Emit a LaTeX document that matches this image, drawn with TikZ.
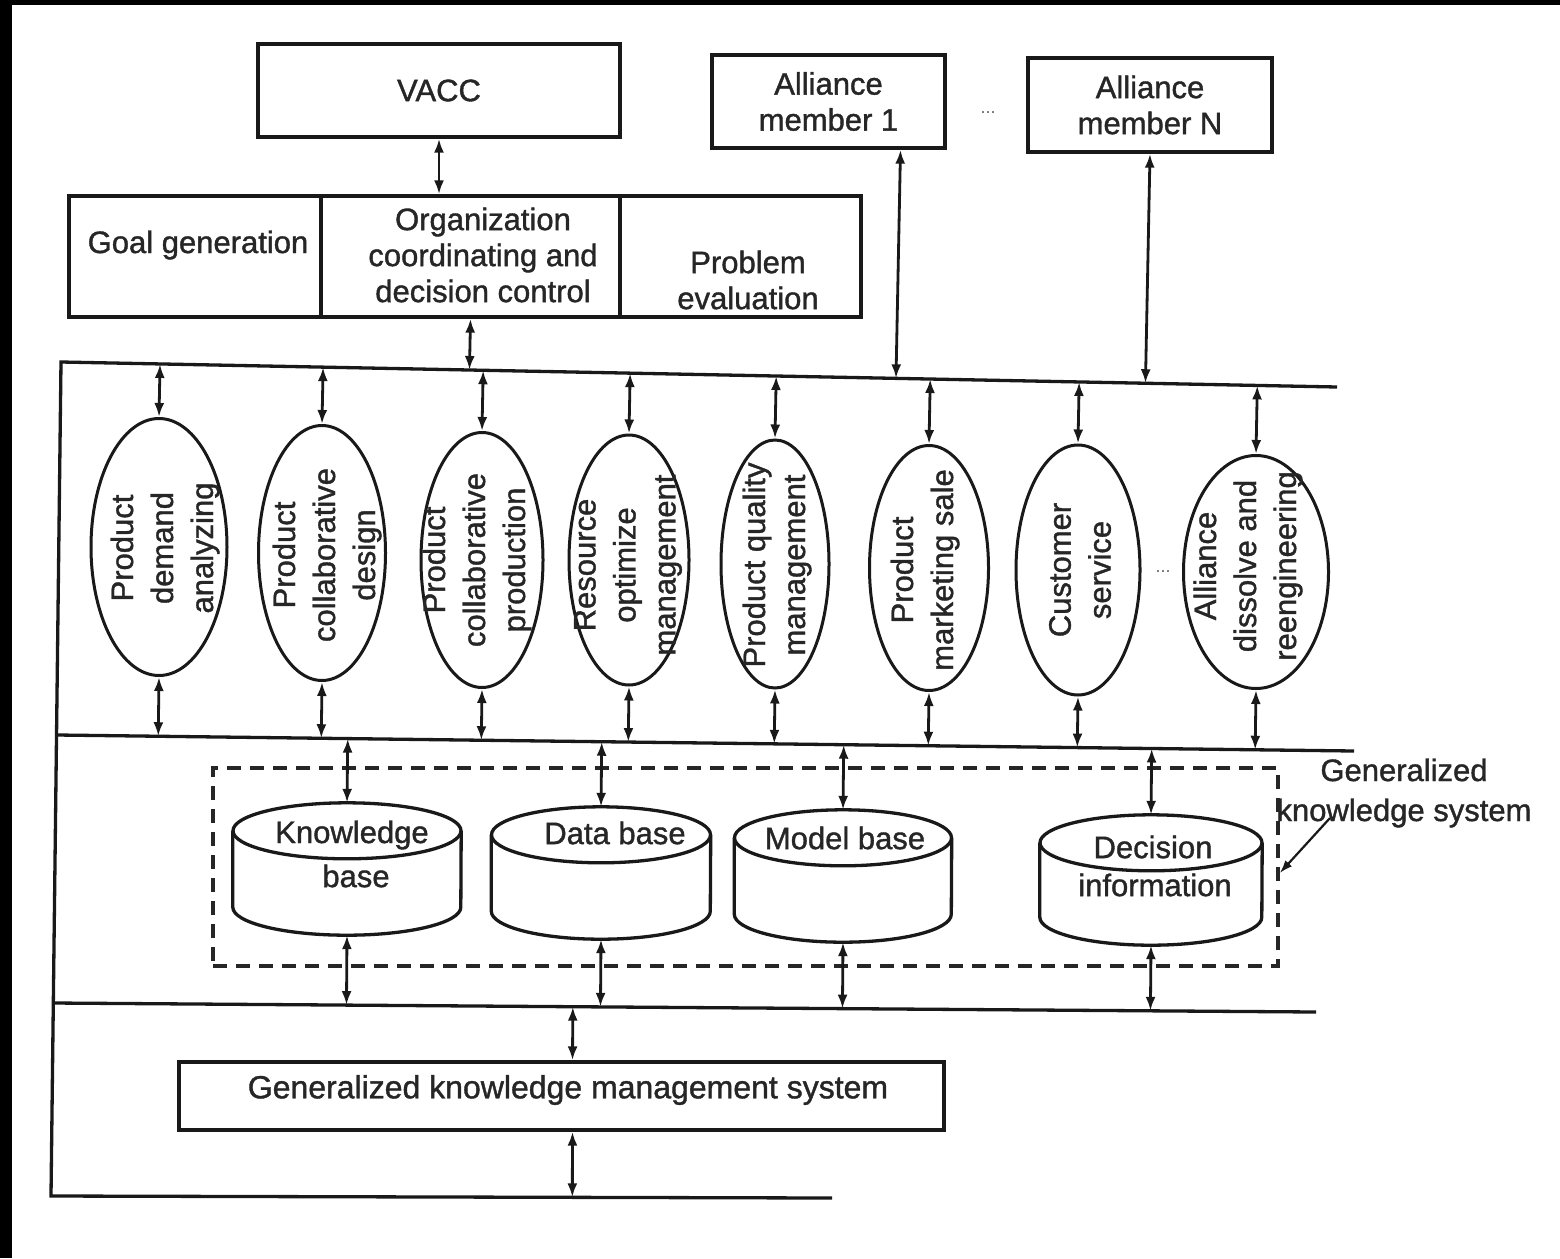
\documentclass[tikz,border=0pt]{standalone}
\usepackage{fontspec}
\setmainfont{Liberation Sans}
\newfontfamily\dkfont{Liberation Sans}[FakeBold=1.2]
\usetikzlibrary{shapes.geometric, arrows.meta, calc}

\newcommand\lblfont{\dkfont\fontsize{31}{36}\selectfont}
\newcommand\ellfont{\dkfont\fontsize{31}{40}\selectfont}

% database cylinder: name, centre x, top y, width, height
\newcommand\dbcyl[5]{%
  \node[minimum width=#4pt, minimum height=#5pt, inner sep=0pt] (#1) at (#2, {#3+#5/2}) {};
  \draw[ink] ([yshift=-28pt]#1.north) ellipse [x radius={#4pt/2}, y radius=28pt];
  \draw[ink] ([yshift=-28pt]#1.north west) -- ([yshift=28pt]#1.south west)
    arc[start angle=180, end angle=360, x radius={#4pt/2}, y radius=28pt]
    -- ([yshift=-28pt]#1.north east);
}

\begin{document}
\begin{tikzpicture}[x=1pt, y=-1pt,
  ink/.style={line width=3.3pt, draw=black!90},
  box/.style={ink, rectangle, inner sep=0pt, align=center, font=\lblfont, text=black!85},
  txt/.style={align=center, font=\lblfont, text=black!85, inner sep=0pt},
  proc/.style={ink, ellipse, inner sep=0pt, line width=3pt},
  rtxt/.style={rotate=90, align=center, font=\ellfont, text=black!85, inner sep=0pt},
  conn/.style={line width=2.8pt, draw=black!90,
    {Latex[length=14pt,width=10pt]}-{Latex[length=14pt,width=10pt]}},
]
\useasboundingbox (0,0) rectangle (1560,1258);
\fill[white] (0,0) rectangle (1560,1258);
% dark scan margins
\fill[black] (0,0) rectangle (1560,5);
\fill[black] (0,0) rectangle (12,1258);

% ---- top boxes ----
\node[box, minimum width=362pt, minimum height=93pt] (vacc) at (439,90.5) {VACC};
\node[box, minimum width=233pt, minimum height=93pt] (am1) at (828.5,101.5) {Alliance\\member 1};
\node[box, minimum width=244pt, minimum height=94pt] (amn) at (1150,105) {Alliance\\member N};
\node[txt, font=\fontsize{18}{18}\selectfont, text=black!60] (dotsA) at (988,113) {...};

% ---- control cells ----
\node[box, minimum width=252pt, minimum height=121pt] (cgoal) at (195,256.5) {};
\node[box, minimum width=299pt, minimum height=121pt] (corg) at (470.5,256.5) {};
\node[box, minimum width=241pt, minimum height=121pt] (cprob) at (740.5,256.5) {};
\node[txt] (tgoal) at (198,245) {Goal generation};
\node[txt] (torg) at (483,255) {Organization\\coordinating and\\decision control};
\node[txt] (tprob) at (748,280) {Problem\\evaluation};

% ---- buses ----
\coordinate (tL) at (61,362);   \coordinate (tR) at (1337,387);
\coordinate (mL) at (57,735);   \coordinate (mR) at (1354,751);
\coordinate (lL) at (53,1003);  \coordinate (lR) at (1316,1012);
\coordinate (bL) at (51,1196);  \coordinate (bR) at (832,1198);
\draw[ink] (tR) -- (tL) -- (bL) -- (bR);
\draw[ink] (mL) -- (mR);
\draw[ink] (lL) -- (lR);

% ---- business processes ----
\node[proc, minimum width=136pt, minimum height=257pt] (e1) at (159,547) {};
\node[proc, minimum width=127pt, minimum height=255pt] (e2) at (322,553) {};
\node[proc, minimum width=122pt, minimum height=255pt] (e3) at (482,560) {};
\node[proc, minimum width=120pt, minimum height=250pt] (e4) at (629,560) {};
\node[proc, minimum width=108pt, minimum height=248pt] (e5) at (775,564) {};
\node[proc, minimum width=119pt, minimum height=245pt] (e6) at (929,568) {};
\node[proc, minimum width=124pt, minimum height=250pt] (e7) at (1078,570) {};
\node[proc, minimum width=145pt, minimum height=233pt] (e8) at (1256,572) {};

\node[rtxt] (t1) at (165,548) {Product\\demand\\analyzing};
\node[rtxt] (t2) at (327,555) {Product\\collaborative\\design};
\node[rtxt] (t3) at (477,560) {Product\\collaborative\\production};
\node[rtxt] (t4) at (628,565) {Resource\\optimize\\management};
\node[rtxt] (t5) at (777,565) {Product quality\\management};
\node[rtxt] (t6) at (925,570) {Product\\marketing sale};
\node[rtxt] (t7) at (1080,570) {Customer\\service};
\node[rtxt] (t8) at (1248,566) {Alliance\\dissolve and\\reengineering};
\node[txt, font=\fontsize{18}{18}\selectfont, text=black!60] (dotsB) at (1163,572) {...};

% ---- knowledge stores ----
\node[draw=black!85, line width=3.6pt, dash pattern=on 14pt off 9pt,
      minimum width=1065pt, minimum height=198pt, inner sep=0pt] (gks) at (745.5,867) {};
\dbcyl{kb}{347}{803}{228}{132}
\dbcyl{db}{601}{807}{219}{132}
\dbcyl{mb}{843}{810}{217}{132}
\dbcyl{di}{1151}{815}{222}{130}
\node[txt] (tkb1) at (352,835) {Knowledge};
\node[txt] (tkb2) at (356,876) {base};
\node[txt] (tdb) at (615,833) {Data base};
\node[txt] (tmb) at (845,838) {Model base};
\node[txt] (tdi1) at (1153,847) {Decision};
\node[txt] (tdi2) at (1155,885) {information};

\node[txt, font=\dkfont\fontsize{31}{40}\selectfont] (gkslbl) at (1404,793) {Generalized\\knowledge system};
\coordinate (gksfrom) at (1330,818);
\draw[line width=2.2pt, draw=black!90, -{Latex[length=13pt,width=9pt]}]
  (gksfrom) -- ([yshift=-6pt]gks.east);

% ---- management system ----
\node[box, minimum width=765pt, minimum height=68pt] (gkms) at (561.5,1096) {};
\node[txt, font=\dkfont\fontsize{32}{36}\selectfont] (tgkms) at (568,1090) {Generalized knowledge management system};

% ---- connectors ----
\draw[conn] (vacc.south) -- (vacc.south |- corg.north);
\draw[conn] (corg.south) -- ($(tL)!(corg.south)!(tR)$);
\coordinate (am1p) at ([xshift=72pt]am1.south);
\draw[conn] (am1p) -- ($(tL)!(am1p)!(tR)$);
\draw[conn] (amn.south) -- ($(tL)!(amn.south)!(tR)$);

\foreach \i in {1,...,8} {
  \draw[conn] ($(tL)!(e\i.north)!(tR)$) -- (e\i.north);
  \draw[conn] (e\i.south) -- ($(mL)!(e\i.south)!(mR)$);
}
\foreach \c in {kb,db,mb,di} {
  \draw[conn] ($(mL)!(\c.north)!(mR)$) -- (\c.north);
  \draw[conn] (\c.south) -- ($(lL)!(\c.south)!(lR)$);
}
\coordinate (gkmsn) at ([xshift=11pt]gkms.north);
\coordinate (gkmss) at ([xshift=11pt]gkms.south);
\draw[conn] ($(lL)!(gkmsn)!(lR)$) -- (gkmsn);
\draw[conn] (gkmss) -- ($(bL)!(gkmss)!(bR)$);
\end{tikzpicture}
\end{document}
